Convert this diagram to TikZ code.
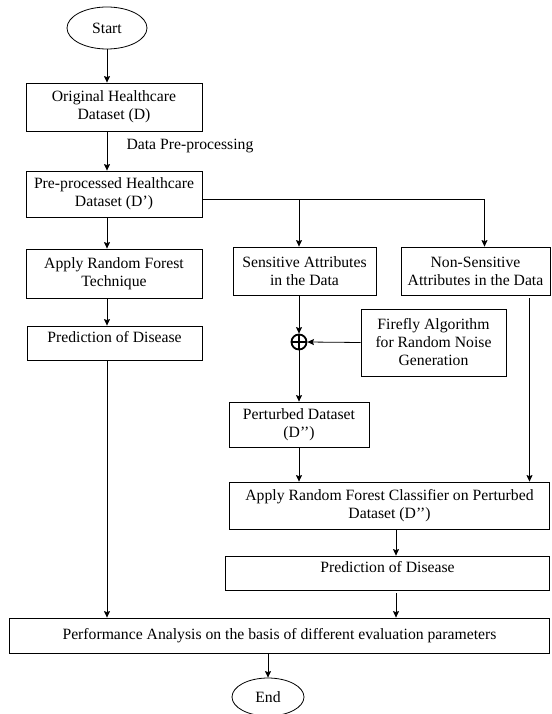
\documentclass[tikz,border=0pt]{standalone}
\usepackage{fontspec}
\setmainfont{Liberation Serif}
\usetikzlibrary{positioning, shapes, calc, arrows.meta}

\begin{document}
\begin{tikzpicture}[x=1pt, y=-1pt,
box/.style={rectangle, align=center, draw, line width=0.8pt, inner sep=2pt, font=\fontsize{15.7}{18}\selectfont},
lowtext/.style={text height=10pt, text depth=12pt},
terminal/.style={ellipse, draw, line width=0.8pt, inner sep=0pt, font=\fontsize{15.7}{18}\selectfont},
path/.style={-{Stealth[length=6.5pt, width=6pt, inset=1pt]},line width=0.8pt},
]
\useasboundingbox (0,0) rectangle (551,714);

%Nodes
\node [terminal, minimum width=80pt, minimum height=42pt] (start) at (107,28) {Start};
\node [box, minimum width=176pt, minimum height=48pt] (orig) at (114,107) {Original Healthcare\\Dataset (D)};
\node [box, minimum width=176pt, minimum height=46pt] (pre) at (114,194) {Pre-processed Healthcare\\Dataset (D’)};
\node [font=\fontsize{15.7}{18}\selectfont, right] (dpp) at (123,146) {Data Pre-processing};
\node [box, minimum width=176pt, minimum height=49pt] (rft) at (114,273.5) {Apply Random Forest\\Technique};
\node [box, lowtext, minimum width=175pt, minimum height=34pt] (pred1) at (114.5,343) {Prediction of Disease};
\node [box, minimum width=143pt, minimum height=48pt] (sens) at (304.5,271) {Sensitive Attributes\\in the Data};
\node [box, minimum width=149pt, minimum height=48pt] (nons) at (475.5,271) {Non-Sensitive\\Attributes in the Data};
\node [circle, draw, line width=1.8pt, minimum size=15pt, inner sep=0pt] (sum) at (299,342) {};
\node [box, minimum width=145pt, minimum height=67pt] (fire) at (433.5,342.5) {Firefly Algorithm\\for Random Noise\\Generation};
\node [box, minimum width=140pt, minimum height=45pt] (pert) at (299,424.5) {Perturbed Dataset\\(D’’)};
\node [box, minimum width=320pt, minimum height=47pt] (apply) at (389.5,505.5) {Apply Random Forest Classifier on Perturbed\\Dataset (D’’)};
\node [box, lowtext, minimum width=324pt, minimum height=34pt] (pred2) at (387.5,573) {Prediction of Disease};
\node [box, minimum width=540pt, minimum height=35pt] (perf) at (279.5,635.5) {Performance Analysis on the basis of different evaluation parameters};
\node [terminal, minimum width=72pt, minimum height=38pt] (end) at (268,697) {End};

% Paths
\draw [path] (start) -- (start |- orig.north);
\draw [path] (orig.south -| start) -- (pre.north -| start);
\draw [path] (pre.south -| start) -- (rft.north -| start);
\draw [path] (rft.south -| start) -- (pred1.north -| start);
\draw [path] (pred1.south -| start) -- (perf.north -| start);

\draw [path] ([yshift=-5pt]pre.east) -| ([xshift=9pt]nons.north);
\draw [path] ([yshift=-5pt]pre.east -| sum) -- (sens.north -| sum);
\draw [path] (sens.south -| sum) -- (sum.north);
\draw [line width=1.8pt] (sum.north) -- (sum.south) (sum.west) -- (sum.east);
\draw [path] (fire.west) -- (sum.east);
\draw [path] (sum.south) -- (pert.north);
\draw [path] (pert.south) -- (pert.south |- apply.north);
\draw [path, shorten <=3pt] ([xshift=54pt]nons.south) -- ([xshift=54pt]nons.south |- apply.north);

\draw [path] ([xshift=6.5pt]apply.south) -- ([xshift=6.5pt]apply.south |- pred2.north);
\draw [path, shorten <=3pt] ([xshift=8.5pt]pred2.south) -- ([xshift=8.5pt]pred2.south |- perf.north);
\draw [path] (perf.south -| end) -- (end.north);
\end{tikzpicture}
\end{document}
